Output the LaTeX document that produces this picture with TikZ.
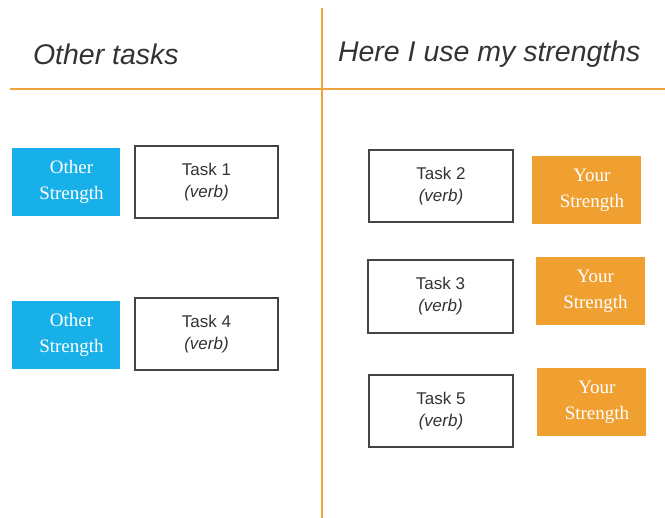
\documentclass[tikz,border=0pt]{standalone}
\usepackage{fontspec}
\setmainfont{Liberation Serif}
\setsansfont{Liberation Sans}
% two centred lines, nudged a little right of the box centre
\newcommand{\twolines}[2]{\hspace*{11pt}#1\\\hspace*{11pt}#2}
\begin{document}
\begin{tikzpicture}[x=1pt,y=-1pt,
  every node/.style={inner sep=0pt, outer sep=0pt},
  rule/.style={draw=ruleorange, line width=2pt},
  header/.style={font=\sffamily\itshape\fontsize{28.5}{32}\selectfont, text=headgray, anchor=west},
  taskbox/.style={draw=boxgray, line width=1.3pt, fill=white, align=center,
    font=\sffamily\fontsize{17}{22}\selectfont, text=headgray},
  strength/.style={text=white, align=center, minimum height=68pt,
    font=\fontsize{19}{26}\selectfont},
  otherbox/.style={strength, fill=skyblue, minimum width=108pt},
  yourbox/.style={strength, fill=amber, minimum width=109pt}]
\definecolor{ruleorange}{HTML}{EDA23C}
\definecolor{headgray}{HTML}{333333}
\definecolor{boxgray}{HTML}{444444}
\definecolor{skyblue}{HTML}{18B0E8}
\definecolor{amber}{HTML}{F0A030}
\useasboundingbox (0,0) rectangle (665,518);

% table rules
\coordinate (vtop) at (322,8);
\coordinate (vbot) at (322,518);
\coordinate (hl) at (10,89);
\coordinate (hr) at (665,89);
\draw[rule] (vtop) -- (vbot);
\draw[rule] (hl) -- (hr);

% column headings
\node[header] (hleft) at (33,54) {Other tasks};
\node[header] (hright) at (338,54) {Here I use my strengths};

% left column
\node[otherbox] (os1) at (66,182) {\twolines{Other}{Strength}};
\node[taskbox, minimum width=143pt, minimum height=72pt] (t1) at (206.5,182) {Task 1\\\textit{(verb)}};
\node[otherbox] (os2) at (66,335) {\twolines{Other}{Strength}};
\node[taskbox, minimum width=143pt, minimum height=72pt] (t4) at (206.5,334) {Task 4\\\textit{(verb)}};

% right column
\node[taskbox, minimum width=144pt, minimum height=72pt] (t2) at (441,186) {Task 2\\\textit{(verb)}};
\node[yourbox] (ys1) at (586.5,190.5) {\twolines{Your}{Strength}};
\node[taskbox, minimum width=145pt, minimum height=73pt] (t3) at (440.5,296.5) {Task 3\\\textit{(verb)}};
\node[yourbox] (ys2) at (590,291.5) {\twolines{Your}{Strength}};
\node[taskbox, minimum width=144pt, minimum height=72pt] (t5) at (441,411) {Task 5\\\textit{(verb)}};
\node[yourbox] (ys3) at (591.5,402) {\twolines{Your}{Strength}};
\end{tikzpicture}
\end{document}
